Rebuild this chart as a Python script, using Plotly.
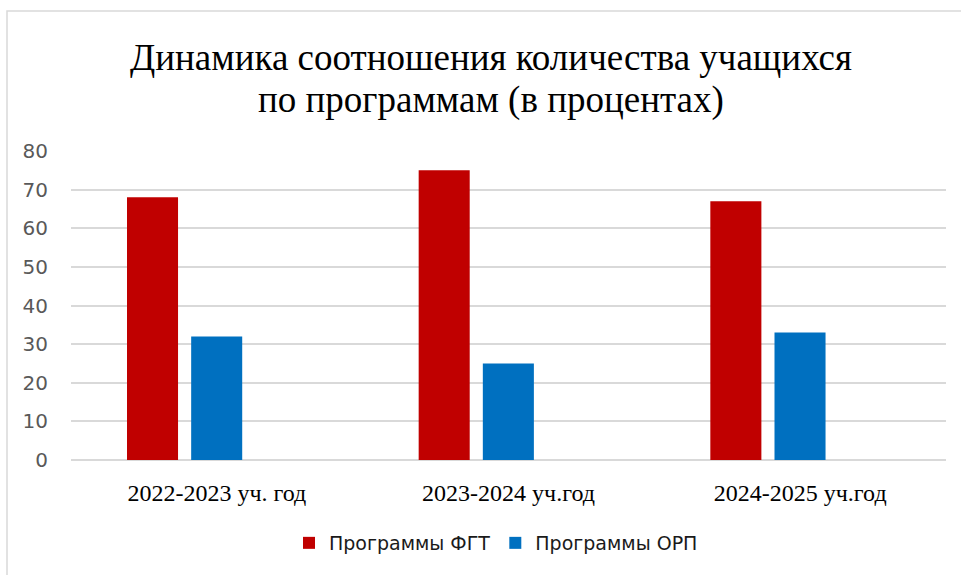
import plotly.graph_objects as go

categories = ["2022-2023 уч. год", "2023-2024 уч.год", "2024-2025 уч.год"]
fgt_values = [68, 75, 67]
orp_values = [32, 25, 33]
series_names = ["Программы ФГТ", "Программы ОРП"]
title_lines = ["Динамика соотношения количества учащихся", "по программам (в процентах)"]
y_ticks = [0, 10, 20, 30, 40, 50, 60, 70, 80]

W, H = 961, 575
ML, MR, MT, MB = 71, 15, 151, 115
PW, PH = W - ML - MR, H - MT - MB

SERIF = "Liberation Serif, Times New Roman, serif"
SANS = "DejaVu Sans, sans-serif"

bar_w = 0.175
fig = go.Figure()
fig.add_trace(go.Bar(x=categories, y=fgt_values, name=series_names[0],
                     marker=dict(color="#C00000", line=dict(width=0)),
                     width=bar_w, offset=-0.308))
fig.add_trace(go.Bar(x=categories, y=orp_values, name=series_names[1],
                     marker=dict(color="#0070C0", line=dict(width=0)),
                     width=bar_w, offset=-0.088))

def py(ypx):
    return (H - MB - ypx) / PH

def px(xpx):
    return (xpx - ML) / PW

annotations = [
    dict(text=title_lines[0], x=px(491), xref="paper", y=py(58), yref="paper",
         xanchor="center", yanchor="middle", showarrow=False,
         font=dict(family=SERIF, size=37, color="#000000")),
    dict(text=title_lines[1], x=px(491), xref="paper", y=py(100), yref="paper",
         xanchor="center", yanchor="middle", showarrow=False,
         font=dict(family=SERIF, size=37, color="#000000")),
]

fig.update_layout(
    width=W, height=H,
    margin=dict(l=ML, r=MR, t=MT, b=MB),
    paper_bgcolor="white", plot_bgcolor="white",
    barmode="group",
    showlegend=True,
    legend=dict(orientation="h", x=px(496), xanchor="center", y=py(543), yanchor="middle",
                font=dict(family=SANS, size=19, color="#1a1a1a"),
                itemwidth=30, traceorder="normal"),
    annotations=annotations,
    shapes=[dict(type="rect", xref="paper", yref="paper",
                 x0=px(7), x1=px(975), y0=py(11), y1=py(590),
                 line=dict(color="#d9d9d9", width=1.5), fillcolor="rgba(0,0,0,0)",
                 layer="below")],
    xaxis=dict(type="category", showgrid=False, showline=False, ticks="",
               tickfont=dict(family=SERIF, size=24, color="#000000"),
               ticklabelstandoff=16, range=[-0.5, 2.5]),
    yaxis=dict(range=[0, 80], tickvals=y_ticks, showgrid=True, gridcolor="#d9d9d9",
               gridwidth=1.5, zeroline=True, zerolinecolor="#d9d9d9", zerolinewidth=1.5,
               showline=False, ticks="",
               tickfont=dict(family=SANS, size=20, color="#595959"),
               ticklabelstandoff=22),
)

fig.write_html("out.html", config={"displayModeBar": False},
               post_script="document.body.style.margin='0';")
